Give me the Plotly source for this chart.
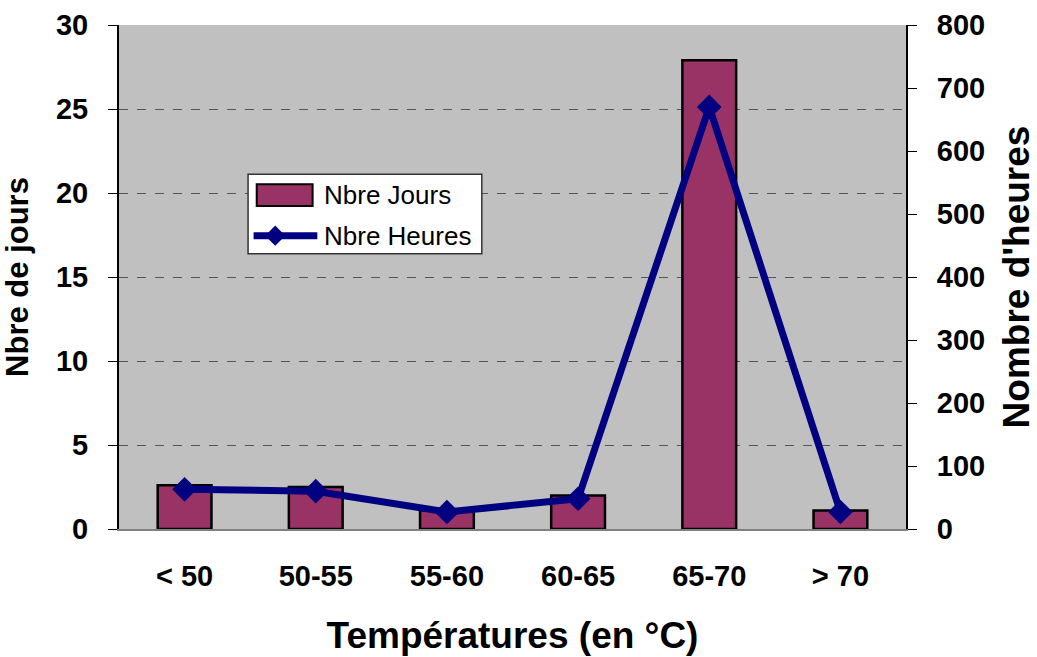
import plotly.graph_objects as go

# Temperature classes and counts
categories = ["< 50", "50-55", "55-60", "60-65", "65-70", "> 70"]
nbre_jours = [2.6, 2.5, 1.1, 2.0, 27.9, 1.1]
nbre_heures = [63, 60, 27, 48, 670, 27]

left_ticks = [0, 5, 10, 15, 20, 25, 30]
right_ticks = [0, 100, 200, 300, 400, 500, 600, 700, 800]

series_names = ["Nbre Jours", "Nbre Heures"]

BAR_COLOR = "#993366"
LINE_COLOR = "#000080"
FONT = "Arial, Liberation Sans, sans-serif"

fig = go.Figure()

fig.add_trace(go.Bar(
    x=categories, y=nbre_jours, name=series_names[0],
    marker=dict(color=BAR_COLOR, line=dict(color="black", width=2.5)),
    width=0.41, yaxis="y",
))

fig.add_trace(go.Scatter(
    x=categories, y=nbre_heures, name=series_names[1],
    mode="lines+markers",
    line=dict(color=LINE_COLOR, width=7),
    marker=dict(symbol="diamond", size=19, color=LINE_COLOR),
    yaxis="y2",
))

# Boxed legend drawn inside the plot area (paper coordinates)
lx0, lx1, ly0, ly1 = 0.164, 0.461, 0.546, 0.704
shapes = [
    dict(type="rect", xref="paper", yref="paper", x0=lx0, x1=lx1, y0=ly0, y1=ly1,
         fillcolor="white", line=dict(color="#333333", width=1.5), layer="above"),
    dict(type="rect", xref="paper", yref="paper", x0=0.175, x1=0.246, y0=0.641, y1=0.684,
         fillcolor=BAR_COLOR, line=dict(color="black", width=2), layer="above"),
    dict(type="line", xref="paper", yref="paper", x0=0.171, x1=0.252, y0=0.582, y1=0.582,
         line=dict(color=LINE_COLOR, width=7), layer="above"),
    dict(type="path", xref="paper", yref="paper",
         path="M 0.1985 0.602 L 0.2113 0.582 L 0.1985 0.562 L 0.1857 0.582 Z",
         fillcolor=LINE_COLOR, line=dict(color=LINE_COLOR, width=0), layer="above"),
]
annotations = [
    dict(text=series_names[0], xref="paper", yref="paper", x=0.258, y=0.663,
         xanchor="left", yanchor="middle", showarrow=False,
         font=dict(size=26, family=FONT, color="black")),
    dict(text=series_names[1], xref="paper", yref="paper", x=0.258, y=0.582,
         xanchor="left", yanchor="middle", showarrow=False,
         font=dict(size=26, family=FONT, color="black")),
]

fig.update_layout(
    width=1037, height=657,
    margin=dict(l=119, r=131, t=25, b=128, autoexpand=False),
    paper_bgcolor="white",
    plot_bgcolor="#C0C0C0",
    font=dict(family=FONT, color="black"),
    showlegend=False,
    shapes=shapes,
    annotations=annotations,
    xaxis=dict(
        type="category", automargin=False,
        showgrid=False, showline=True, linecolor="#808080", linewidth=2,
        ticks="", tickfont=dict(size=29, family=FONT, weight="bold"),
        ticklabelstandoff=20,
        title=dict(text="Températures (en °C)",
                   font=dict(size=37, family=FONT, weight="bold"),
                   standoff=31),
    ),
    yaxis=dict(
        range=[0, 30], tickvals=left_ticks, automargin=False,
        showgrid=True, gridcolor="#555555", griddash="dash", gridwidth=1,
        showline=True, linecolor="black", linewidth=2,
        ticks="outside", ticklen=9, tickcolor="black", tickwidth=1,
        tickfont=dict(size=29, family=FONT, weight="bold"),
        ticklabelstandoff=14,
        zeroline=False,
        title=dict(text="Nbre de jours",
                   font=dict(size=31, family=FONT, weight="bold"),
                   standoff=19),
    ),
    yaxis2=dict(
        range=[0, 800], tickvals=right_ticks, automargin=False,
        overlaying="y", side="right",
        showgrid=False,
        showline=True, linecolor="black", linewidth=2,
        ticks="outside", ticklen=9, tickcolor="black", tickwidth=1,
        tickfont=dict(size=29, family=FONT, weight="bold"),
        ticklabelstandoff=14,
        zeroline=False,
        title=dict(text="Nombre d'heures",
                   font=dict(size=37, family=FONT, weight="bold"),
                   standoff=24),
    ),
)

fig.write_html("out.html")
